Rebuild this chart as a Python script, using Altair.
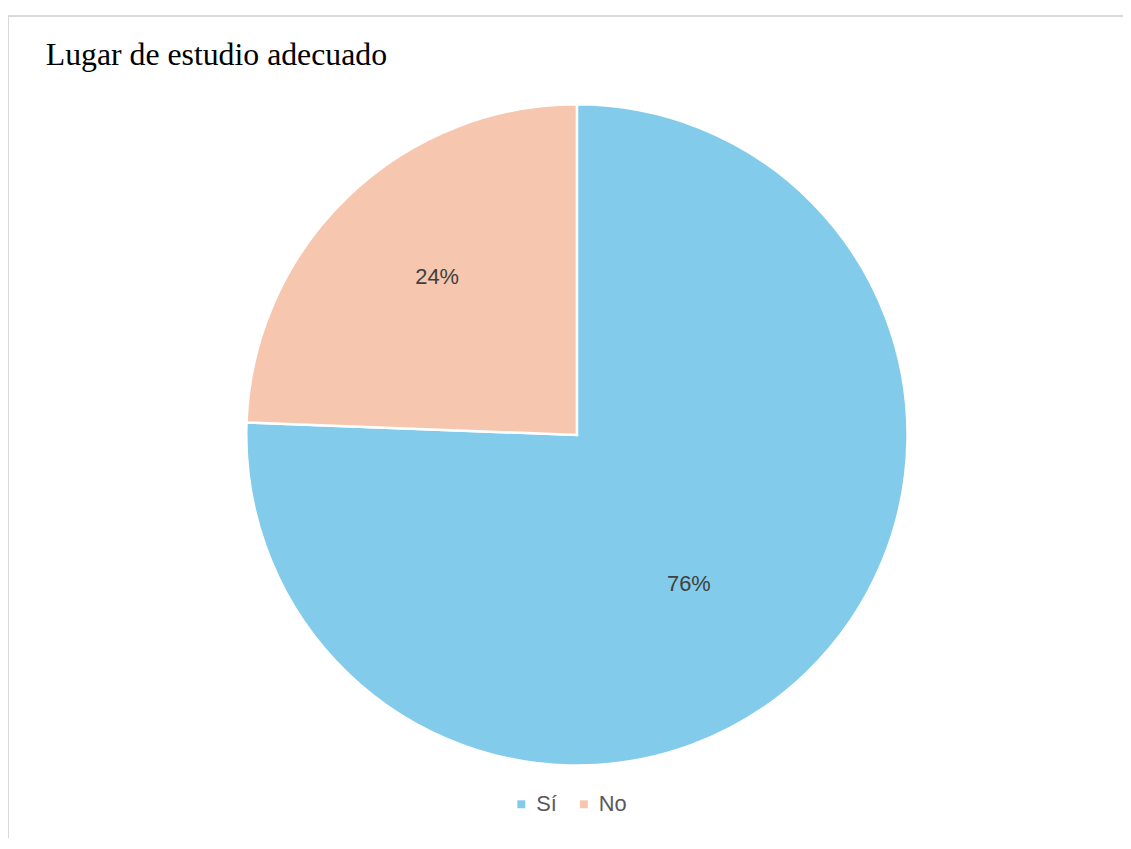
import altair as alt
import pandas as pd

categories = ["Sí", "No"]
values = [0.756, 0.244]
colors = ["#83CBEB", "#F6C7AE"]
title_text = "Lugar de estudio adecuado"

df = pd.DataFrame({"cat": categories, "value": values, "ord": list(range(len(categories)))})

W, H = 1123, 833
CX, CY, R = 573, 427, 333

base = alt.Chart(df).encode(
    theta=alt.Theta("value:Q", stack=True),
    order=alt.Order("ord:Q"),
)

pie = base.mark_arc(stroke="white", strokeWidth=2.5, radius=R).encode(
    x=alt.value(CX),
    y=alt.value(CY),
    color=alt.Color(
        "cat:N",
        scale=alt.Scale(domain=categories, range=colors),
        sort=categories,
        legend=alt.Legend(
            title=None,
            orient="none",
            direction="horizontal",
            legendX=506,
            legendY=788,
            symbolType="square",
            symbolSize=64,
            symbolStrokeWidth=0,
            labelFont="Liberation Sans",
            labelFontSize=22,
            labelColor="#595959",
            labelOffset=4,
            columnPadding=16,
        ),
    ),
)

labels = base.mark_text(
    radius=200, thetaOffset=0.08, dx=-14, dy=-4,
    font="Liberation Sans", fontSize=22, color="#404040"
).encode(
    x=alt.value(CX),
    y=alt.value(CY),
    text=alt.Text("value:Q", format=".0%"),
)

title = alt.Chart(pd.DataFrame({"t": [title_text]})).mark_text(
    font="Liberation Serif", fontSize=32, color="#000000", align="left", baseline="alphabetic"
).encode(x=alt.value(38), y=alt.value(54), text="t:N")

border = alt.Chart(pd.DataFrame({"a": [0]})).mark_rule(color="#d9d9d9", strokeWidth=2).encode(
    x=alt.value(0), x2=alt.value(W), y=alt.value(5)
)
border_left = alt.Chart(pd.DataFrame({"a": [0]})).mark_rule(color="#d9d9d9", strokeWidth=2).encode(
    x=alt.value(0), y=alt.value(5), y2=alt.value(H)
)

chart = (
    alt.layer(border, border_left, pie, labels, title)
    .properties(
        width=W,
        height=H,
        padding=0,
        autosize=alt.AutoSizeParams(type="none"),
    )
    .configure_view(stroke=None)
)

chart.save("out.html", embed_options={"renderer": "svg", "actions": False})
